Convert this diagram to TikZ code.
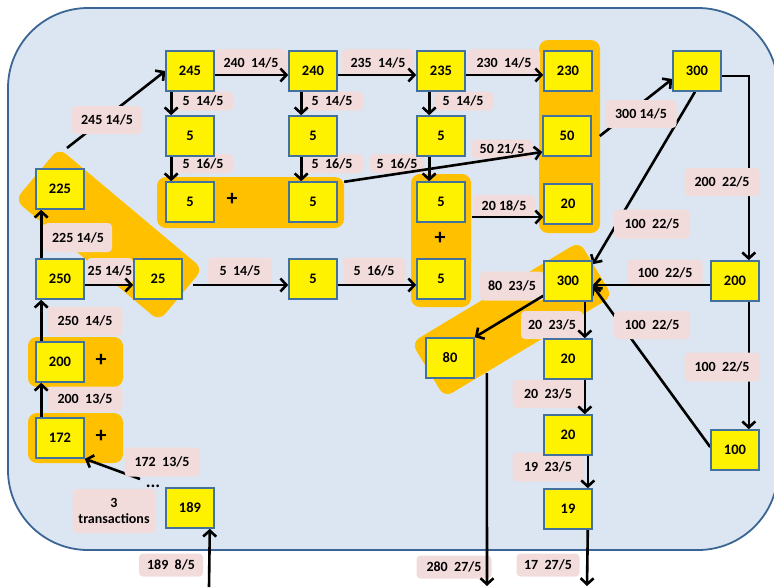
\documentclass[tikz,border=0pt]{standalone}
\usepackage{fontspec}
\setmainfont{Carlito}
\usetikzlibrary{arrows.meta,calc}
\definecolor{bgblue}{HTML}{DCE6F2}
\definecolor{bord}{HTML}{41719C}
\definecolor{outerc}{HTML}{3A6594}
\definecolor{grp}{HTML}{FFC000}
\definecolor{lbl}{HTML}{F2DCDB}
\pgfdeclarelayer{bg}
\pgfdeclarelayer{lab}
\pgfdeclarelayer{mid}
\pgfsetlayers{bg,lab,mid,main}
\begin{document}
\begin{tikzpicture}[x=1pt,y=-1pt,
 box/.style={draw=bord,line width=1.6pt,fill=yellow,minimum width=48pt,minimum height=40pt,inner sep=0pt,font=\fontsize{14.5}{16}\selectfont\bfseries},
 lab/.style={fill=lbl,rounded corners=4pt,inner sep=0pt,font=\fontsize{14}{16}\selectfont\bfseries,align=center},
 grpbox/.style={fill=grp,rounded corners=9pt,inner sep=0pt},
 arr/.style={line width=2.6pt,-{Straight Barb[length=6pt,width=13pt]}},
 plus/.style={font=\fontsize{22}{22}\selectfont\bfseries,inner sep=0pt}]
\useasboundingbox (0,0) rectangle (774,587);

% boxes
\node[box] (b245) at (190,71) {245};
\node[box] (b240) at (313,71) {240};
\node[box] (b235) at (441,71) {235};
\node[box] (b230) at (568,71) {230};
\node[box] (b300t) at (697,71) {300};
\node[box] (b5a) at (190,136) {5};
\node[box] (b5b) at (313,136) {5};
\node[box] (b5c) at (441,136) {5};
\node[box] (b50) at (567,136) {50};
\node[box] (b5d) at (190,202) {5};
\node[box] (b5e) at (313,202) {5};
\node[box] (b5f) at (441,202) {5};
\node[box] (b20t) at (568,204) {20};
\node[box] (b225) at (60,189) {225};
\node[box] (b250) at (60,279) {250};
\node[box] (b25) at (158,279) {25};
\node[box] (b5m) at (313,279) {5};
\node[box] (b5g) at (441,279) {5};
\node[box] (b300m) at (568,281) {300};
\node[box] (b200r) at (735,281) {200};
\node[box] (b200l) at (60,362) {200};
\node[box] (b172) at (60,438) {172};
\node[box] (b189) at (190,508) {189};
\node[box] (b80) at (450,358) {80};
\node[box] (b20a) at (568,359) {20};
\node[box] (b20b) at (568,435) {20};
\node[box] (b19) at (568,509) {19};
\node[box] (b100) at (735,450) {100};

% plus signs and dots
\node[plus] (p1) at (232,199) {+};
\node[plus] (p2) at (101,360) {+};
\node[plus] (p3) at (101,436) {+};
\node[plus] (p4) at (440,238) {+};
\node[anchor=base,inner sep=0pt,font=\fontsize{18}{18}\selectfont\bfseries] (dots) at (153,487) {...};

% labels that lie over their connectors
\node[lab,minimum width=71pt,minimum height=28pt] (l11) at (641,114) {300 14/5};
\node[lab,minimum width=70pt,minimum height=28pt] (l12) at (107,120) {245 14/5};
\node[lab,minimum width=75pt,minimum height=28pt] (l18) at (722,182) {200\ \ 22/5};
\node[lab,minimum width=76pt,minimum height=29pt] (l19) at (652,224) {100\ \ 22/5};
\node[lab,minimum width=76pt,minimum height=28pt] (l22) at (652,325) {100\ \ 22/5};
\node[lab,minimum width=75pt,minimum height=29pt] (l24) at (722,367) {100\ \ 22/5};
\node[lab,minimum width=75pt,minimum height=29pt] (l31) at (162,462) {172\ \ 13/5};

\begin{pgfonlayer}{bg}
\draw[fill=bgblue,draw=outerc,line width=1.8pt,rounded corners=80pt] (8,8) rectangle (778,550);
\node[grpbox,rotate=-40,minimum width=188pt,minimum height=68pt] (g1) at (109,234.5) {};
\node[grpbox,rotate=31,minimum width=196pt,minimum height=64pt] (g2) at (512,319.5) {};
\node[grpbox,minimum width=187pt,minimum height=51pt] (g55) at (250.5,202.5) {};
\node[grpbox,minimum width=60pt,minimum height=133pt] (gv) at (441,240.5) {};
\node[grpbox,minimum width=61pt,minimum height=193pt] (g3) at (569.5,136.5) {};
\node[grpbox,minimum width=95pt,minimum height=50pt] (g200) at (75.5,362) {};
\node[grpbox,minimum width=95pt,minimum height=50pt] (g172) at (75.5,438) {};
\end{pgfonlayer}

\begin{pgfonlayer}{lab}
\node[lab,minimum width=72pt,minimum height=27pt] (l1) at (251,62.5) {240\ \ 14/5};
\node[lab,minimum width=72pt,minimum height=27pt] (l2) at (378,62.5) {235\ \ 14/5};
\node[lab,minimum width=72pt,minimum height=27pt] (l3) at (504,62.5) {230\ \ 14/5};
\node[lab,minimum width=60pt,minimum height=19pt] (l4) at (203,101) {5\ \ 14/5};
\node[lab,minimum width=62pt,minimum height=19pt] (l5) at (332,101) {5\ \ 14/5};
\node[lab,minimum width=60pt,minimum height=19pt] (l6) at (463,101) {5\ \ 14/5};
\node[lab,minimum width=60pt,minimum height=19pt] (l7) at (203,163.5) {5\ \ 16/5};
\node[lab,minimum width=62pt,minimum height=19pt] (l8) at (332,163.5) {5\ \ 16/5};
\node[lab,minimum width=54pt,minimum height=19pt] (l9) at (397,163.5) {5\ \ 16/5};
\node[lab,minimum width=61pt,minimum height=19pt] (l10) at (502,149) {50 21/5};
\node[lab,minimum width=68pt,minimum height=29pt] (l13) at (78,237.5) {225 14/5};
\node[lab,minimum width=46pt,minimum height=26pt] (l14) at (110,271) {25 14/5};
\node[lab,minimum width=64pt,minimum height=27pt] (l15) at (240,271) {5\ \ 14/5};
\node[lab,minimum width=62pt,minimum height=27pt] (l16) at (374,271) {5\ \ 16/5};
\node[lab,minimum width=62pt,minimum height=22pt] (l17) at (504,206) {20 18/5};
\node[lab,minimum width=75pt,minimum height=27pt] (l20) at (665,273) {100\ \ 22/5};
\node[lab,minimum width=64pt,minimum height=29pt] (l21) at (512,286) {80\ \ 23/5};
\node[lab,minimum width=62pt,minimum height=28pt] (l23) at (552,325) {20\ \ 23/5};
\node[lab,minimum width=71pt,minimum height=28pt] (l25) at (548,394) {20\ \ 23/5};
\node[lab,minimum width=71pt,minimum height=29pt] (l26) at (548,467) {19\ \ 23/5};
\node[lab,minimum width=63pt,minimum height=23pt] (l27) at (548,565) {17\ \ 27/5};
\node[lab,minimum width=75pt,minimum height=23pt] (l28) at (454,567) {280\ \ 27/5};
\node[lab,minimum width=75pt,minimum height=29pt] (l29) at (85,321) {250\ \ 14/5};
\node[lab,minimum width=75pt,minimum height=25pt] (l30) at (85,399) {200\ \ 13/5};
\node[lab,minimum width=83pt,minimum height=44pt] (l32) at (114,511) {3\\transactions};
\node[lab,minimum width=64pt,minimum height=23pt] (l33) at (171,565) {189\ \ 8/5};
\end{pgfonlayer}

\begin{pgfonlayer}{mid}
\draw[arr] ([xshift=6pt]b250.north west) -- ([xshift=6pt]b225.south west);
\draw[arr] ([xshift=6pt]b200l.north west) -- ([xshift=6pt]b250.south west);
\draw[arr] ([xshift=6pt]b172.north west) -- ([xshift=6pt]b200l.south west);
\draw[arr] ([yshift=-6pt]b250.east) -- ([yshift=-6pt]b25.west);
\draw[arr] ([xshift=10pt,yshift=-6pt]b25.east) -- ([yshift=-6pt]b5m.west);
\draw[arr] ([yshift=-6pt]b5m.east) -- ([yshift=-6pt]b5g.west);
\coordinate (s225) at (67,148);
\draw[arr] (s225) -- (b245.west);
\draw[arr] ([yshift=-4pt]b245.east) -- ([yshift=-4pt]b240.west);
\draw[arr] ([yshift=-4pt]b240.east) -- ([yshift=-4pt]b235.west);
\draw[arr] ([yshift=-4pt]b235.east) -- ([yshift=-4pt]b230.west);
\draw[arr] ([xshift=6pt]b245.south west) -- ([xshift=6pt]b5a.north west);
\draw[arr] ([xshift=6pt]b5a.south west) -- ([xshift=6pt]b5d.north west);
\draw[arr] ([xshift=13pt]b240.south west) -- ([xshift=13pt]b5b.north west);
\draw[arr] ([xshift=13pt]b5b.south west) -- ([xshift=13pt]b5e.north west);
\draw[arr] ([xshift=13pt]b235.south west) -- ([xshift=13pt]b5c.north west);
\draw[arr] ([xshift=13pt]b5c.south west) -- ([xshift=13pt]b5f.north west);
\draw[arr] ([yshift=-5pt]g55.north east) -- ([yshift=-16pt]b50.west);
\draw[arr] ([xshift=6pt,yshift=-15pt]b5f.east) -- ([yshift=-13pt]b20t.west);
\draw[arr] ([xshift=8pt]b50.east) -- ([yshift=-8pt]b300t.west);
\draw[arr] ([yshift=-5pt]b300t.east) -| ([xshift=-11pt]b200r.north east);
\draw[arr] ([xshift=-2pt]b300t.south) -- ([yshift=-4pt]b300m.north east);
\draw[arr] ([yshift=-4pt]b200r.west) -- ([yshift=-4pt]b300m.east);
\draw[arr] ([xshift=-11pt]b200r.south east) -- ([xshift=-11pt]b100.north east);
\draw[arr] ([yshift=3pt]b100.west) -- ([yshift=-5pt]b300m.east);
\draw[arr] ([yshift=6pt]b300m.south west) -- (b80.north east);
\draw[arr] ([xshift=-8pt]b300m.south east) -- ([xshift=-8pt]b20a.north east);
\draw[arr] ([xshift=-8pt]b20a.south east) -- ([xshift=-8pt]b20b.north east);
\draw[arr] ([xshift=-5pt]b20b.south east) -- ([xshift=-5pt]b19.north east);
\coordinate (o19) at (587,586);
\draw[arr] ([xshift=-5pt]b19.south east) -- (o19);
\coordinate (o80) at (487,586);
\draw[arr] ([xshift=12pt,yshift=-15pt]b80.east) -- (o80);
\coordinate (i189) at (209,587);
\draw[arr] (i189) -- ([xshift=-5pt]b189.south east);
\coordinate (sdots) at (140,479);
\draw[arr] (sdots) -- (b172.south east);
\end{pgfonlayer}
\end{tikzpicture}
\end{document}
